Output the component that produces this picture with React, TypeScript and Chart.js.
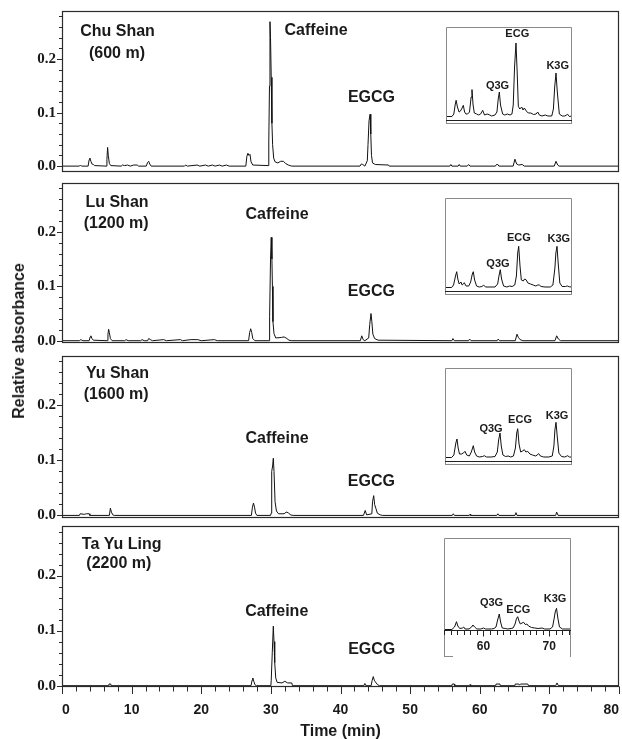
import { useEffect, useRef } from 'react';
import Chart from 'chart.js/auto';

type Pt = [number, number];

// ---------- data ----------
// main chromatograms: [time (min), relative absorbance]
const chuShanTrace: Pt[] = [
  [0, 0], [2.5, 0], [2.65, 0.002], [2.8, 0], [3.75, 0], [3.9, 0.012], [4.0, 0.015], [4.15, 0.009], [4.3, 0.004],
  [4.5, 0.003], [4.7, 0.001], [6.35, 0], [6.45, 0.012], [6.55, 0.035], [6.65, 0.02], [6.8, 0.005], [7.0, 0.001],
  [8.5, 0], [8.7, 0.002], [9.0, 0.001], [9.4, 0.002], [9.8, 0], [10.3, 0.002], [10.8, 0.002], [11.0, 0], [12.1, 0],
  [12.3, 0.007], [12.45, 0.009], [12.6, 0.004], [12.8, 0], [17.6, 0], [17.75, 0.002], [18.0, 0], [19.4, 0.002],
  [19.8, 0], [20.6, 0.002], [21.0, 0], [21.6, 0.002], [22.0, 0], [22.6, 0.002], [23.0, 0], [23.6, 0.002], [24.0, 0],
  [26.4, 0], [26.55, 0.018], [26.7, 0.024], [26.85, 0.02], [27.0, 0.022], [27.15, 0.008], [27.4, 0.002],
  [29.6, 0.001], [29.7, 0.045], [29.8, 0.15], [29.87, 0.27], [29.95, 0.24], [30.05, 0.166], [30.15, 0.08],
  [30.25, 0.04], [30.4, 0.015], [30.6, 0.008], [31.0, 0.006], [31.4, 0.009], [31.8, 0.009], [32.1, 0.005],
  [32.5, 0.002], [33.0, 0], [42.8, 0], [43.0, 0.004], [43.2, 0.003], [43.5, 0], [43.85, 0.01], [43.95, 0.04],
  [44.1, 0.085], [44.25, 0.097], [44.35, 0.06], [44.45, 0.02], [44.6, 0.006], [45.0, 0.003], [46.9, 0.002],
  [47.0, 0], [55.7, 0], [55.85, 0.003], [56.0, 0], [56.9, 0], [57.05, 0.003], [57.2, 0], [58.2, 0], [58.4, 0.003],
  [58.6, 0], [62.25, 0], [62.4, 0.003], [62.6, 0.003], [62.75, 0], [64.8, 0], [65.05, 0.013], [65.3, 0.004],
  [65.6, 0.002], [66.1, 0.003], [66.4, 0], [70.7, 0], [70.95, 0.009], [71.2, 0.002], [71.4, 0], [80, 0],
];

const luShanTrace: Pt[] = [
  [0, 0], [2.5, 0], [2.7, 0.002], [3.0, 0], [3.9, 0], [4.05, 0.007], [4.15, 0.009], [4.3, 0.004], [4.5, 0.001],
  [6.5, 0], [6.6, 0.012], [6.7, 0.021], [6.8, 0.015], [6.95, 0.004], [7.2, 0], [9.0, 0], [9.2, 0.002], [9.5, 0],
  [11.3, 0], [11.5, 0.002], [11.8, 0], [12.3, 0], [12.45, 0.004], [12.7, 0.002], [13.0, 0], [14.6, 0.002],
  [15.0, 0], [17.0, 0.002], [17.3, 0], [18.5, 0.002], [19.5, 0.002], [20.0, 0], [21.9, 0.002], [22.3, 0],
  [26.8, 0], [26.95, 0.015], [27.1, 0.022], [27.25, 0.015], [27.4, 0.004], [27.7, 0], [29.75, 0], [29.82, 0.045],
  [29.95, 0.15], [30.05, 0.19], [30.15, 0.15], [30.22, 0.1], [30.3, 0.035], [30.45, 0.013], [30.7, 0.005],
  [31.5, 0.006], [31.9, 0.007], [32.3, 0.004], [32.6, 0.001], [33.0, 0], [42.85, 0], [43.05, 0.009],
  [43.25, 0.002], [43.5, 0], [44.05, 0.005], [44.2, 0.03], [44.38, 0.05], [44.5, 0.035], [44.65, 0.012],
  [44.9, 0.004], [45.4, 0.001], [56.0, 0], [56.15, 0.004], [56.35, 0], [58.4, 0], [58.55, 0.003], [58.75, 0],
  [62.5, 0], [62.65, 0.003], [62.85, 0], [65.1, 0], [65.35, 0.012], [65.55, 0.006], [65.8, 0.002], [66.2, 0],
  [70.8, 0], [71.05, 0.009], [71.3, 0.003], [71.6, 0], [80, 0],
];

const yuShanTrace: Pt[] = [
  [0, 0], [2.5, 0], [2.6, 0.003], [3.2, 0.002], [3.5, 0.003], [3.9, 0.003], [4.0, 0], [6.8, 0], [6.95, 0.013],
  [7.1, 0.006], [7.3, 0.001], [7.5, 0], [27.2, 0], [27.35, 0.015], [27.5, 0.0225], [27.65, 0.015], [27.8, 0.004],
  [28.0, 0], [29.95, 0], [30.05, 0.004], [30.12, 0.08], [30.25, 0.09], [30.35, 0.104], [30.45, 0.08],
  [30.6, 0.025], [30.8, 0.008], [31.1, 0.003], [31.9, 0.003], [32.2, 0.006], [32.5, 0.005], [32.8, 0.001],
  [33.2, 0], [43.3, 0], [43.55, 0.009], [43.75, 0.001], [44.5, 0.003], [44.6, 0.025], [44.77, 0.036],
  [44.9, 0.02], [45.1, 0.012], [45.3, 0.004], [45.7, 0.001], [46.0, 0], [56.05, 0], [56.2, 0.003], [56.35, 0],
  [58.5, 0], [58.6, 0.002], [58.7, 0], [62.45, 0], [62.6, 0.003], [62.75, 0], [65.05, 0], [65.2, 0.005],
  [65.35, 0], [70.9, 0], [71.05, 0.006], [71.25, 0], [80, 0],
];

const taYuLingTrace: Pt[] = [
  [0, 0], [6.7, 0], [6.75, 0.003], [7.0, 0.003], [7.05, 0], [27.15, 0], [27.3, 0.01], [27.4, 0.014],
  [27.55, 0.008], [27.7, 0.002], [27.9, 0], [30.0, 0], [30.05, 0.01], [30.2, 0.06], [30.35, 0.108],
  [30.45, 0.08], [30.55, 0.042], [30.7, 0.014], [30.9, 0.006], [31.6, 0.005], [32.0, 0.008], [32.4, 0.005],
  [33.0, 0.005], [33.1, 0], [43.35, 0], [43.5, 0.004], [43.65, 0], [44.4, 0], [44.55, 0.01], [44.71, 0.0165],
  [44.85, 0.01], [45.0, 0.007], [45.3, 0.002], [45.6, 0], [56.0, 0], [56.05, 0.003], [56.35, 0.003], [56.4, 0],
  [58.5, 0], [58.6, 0.002], [58.7, 0], [62.3, 0], [62.35, 0.003], [62.9, 0.003], [62.95, 0], [65.05, 0],
  [65.1, 0.003], [65.6, 0.003], [65.7, 0.001], [65.85, 0.003], [66.9, 0.003], [67.0, 0], [70.9, 0],
  [71.1, 0.005], [71.3, 0], [80, 0],
];

// inset close-ups (54-73 min), arbitrary units above the baseline
const chuShanInset: Pt[] = [
  [54, 0.5], [54.9, 0.5], [55.2, 3], [55.4, 12], [55.55, 16.7], [55.75, 10], [56.0, 5], [56.15, 5.5], [56.4, 8],
  [56.65, 11.7], [56.85, 5], [57.06, 3], [57.3, 3], [57.6, 5], [57.85, 20], [57.98, 27.4], [58.15, 12],
  [58.34, 4], [58.7, 3], [59.0, 2], [59.3, 3], [59.62, 6.7], [59.9, 2], [60.3, 3], [60.7, 2], [61.0, 1],
  [61.5, 2], [61.8, 5], [62.0, 18], [62.17, 25], [62.35, 12], [62.68, 3], [63.0, 2], [63.4, 3], [63.8, 2],
  [64.1, 3], [64.3, 12], [64.5, 50], [64.72, 74], [64.9, 45], [65.08, 10.7], [65.3, 8], [65.6, 10], [65.8, 7],
  [66.0, 9], [66.3, 6], [66.6, 4], [67.0, 4], [67.4, 2.5], [67.8, 3], [68.05, 5], [68.3, 2], [68.7, 1],
  [69.2, 2], [69.6, 1], [70.2, 1], [70.45, 8], [70.65, 30], [70.85, 44], [71.05, 25], [71.36, 3], [71.8, 1],
  [72.2, 1], [72.64, 2.7], [72.9, 0.5], [73.3, 1],
];

const luShanInset: Pt[] = [
  [54, 0.5], [55.0, 0.5], [55.3, 3], [55.6, 12], [55.78, 16.3], [55.95, 9], [56.15, 4], [56.43, 6], [56.6, 3],
  [56.8, 4], [56.93, 5.3], [57.2, 2], [57.6, 2], [57.9, 6], [58.15, 14], [58.3, 16.3], [58.5, 8], [58.8, 2],
  [59.2, 1], [59.6, 1.5], [59.88, 2.7], [60.2, 1], [61.0, 1], [61.6, 1], [62.0, 4], [62.2, 12], [62.4, 18.3],
  [62.6, 9], [62.9, 2], [63.4, 1], [63.8, 2], [64.2, 1.5], [64.6, 3], [64.85, 12], [65.05, 35], [65.2, 41.7],
  [65.4, 22], [65.6, 8], [65.9, 7], [66.1, 9], [66.31, 8.3], [66.6, 5], [67.0, 4], [67.4, 3], [67.8, 2],
  [68.1, 3], [68.33, 3], [68.6, 1.5], [69.2, 1], [70.0, 1], [70.4, 3], [70.7, 20], [70.85, 35], [71.02, 41.7],
  [71.2, 25], [71.45, 5], [71.8, 1.5], [72.3, 1.5], [72.6, 2], [72.89, 1.2], [73.3, 1],
];

const yuShanInset: Pt[] = [
  [54, 0.5], [55.0, 0.5], [55.35, 3], [55.65, 15], [55.82, 19], [56.0, 10], [56.2, 4], [56.5, 4], [56.8, 5],
  [57.04, 6.7], [57.3, 3], [57.7, 2], [58.0, 6], [58.3, 12.3], [58.5, 6], [58.8, 2], [59.2, 1], [59.7, 1.5],
  [59.98, 2.3], [60.3, 1], [61.0, 1], [61.6, 1.5], [61.95, 6], [62.15, 18], [62.36, 25], [62.55, 12], [62.8, 3],
  [63.2, 1.5], [63.6, 2], [64.0, 1], [64.4, 2], [64.7, 10], [64.9, 25], [65.05, 29.3], [65.25, 14], [65.5, 6],
  [65.8, 7], [66.05, 8.3], [66.3, 6], [66.56, 6.7], [66.9, 4], [67.3, 3], [67.8, 2], [68.24, 4.3], [68.5, 2],
  [69.0, 1], [69.8, 1], [70.3, 2], [70.55, 12], [70.7, 28], [70.87, 35.7], [71.05, 22], [71.3, 5], [71.7, 1.5],
  [72.2, 1], [72.64, 2.3], [72.9, 1], [73.3, 1],
];

const taYuLingInset: Pt[] = [
  [54, 0.5], [55.2, 0.5], [55.6, 3], [55.9, 8.3], [56.1, 4], [56.4, 1.5], [56.8, 2], [57.0, 3], [57.2, 1],
  [57.8, 1], [58.2, 3], [58.4, 5], [58.65, 3], [59.0, 1], [59.6, 1], [60.0, 2], [60.3, 1], [61.2, 1], [61.6, 1.5],
  [61.9, 3], [62.15, 10], [62.4, 16], [62.6, 8], [62.85, 2], [63.3, 1.5], [63.7, 1], [64.2, 1.5], [64.5, 2],
  [64.8, 6], [65.0, 11], [65.2, 13.3], [65.4, 9], [65.6, 6], [65.85, 7], [66.1, 7.7], [66.35, 5.5], [66.6, 6],
  [66.85, 4], [67.3, 2.5], [67.8, 2], [68.3, 1.5], [68.9, 2], [69.3, 1], [70.1, 1], [70.5, 3], [70.75, 12],
  [70.9, 18], [71.1, 21.7], [71.3, 12], [71.55, 3], [72.0, 1], [72.5, 1], [73.3, 1],
];

const traces = [chuShanTrace, luShanTrace, yuShanTrace, taYuLingTrace];
const insetTraces = [chuShanInset, luShanInset, yuShanInset, taYuLingInset];

const siteNames = ['Chu Shan', 'Lu Shan', 'Yu Shan', 'Ta Yu Ling'];
const siteAltitudes = ['(600 m)', '(1200 m)', '(1600 m)', '(2200 m)'];
const mainCompounds = ['Caffeine', 'EGCG'];
const insetCompounds = ['Q3G', 'ECG', 'K3G'];

const yMajorTicks = [0, 0.1, 0.2];
const yMajorLabels = ['0.0', '0.1', '0.2'];
const yMinorTicks = [0.02, 0.04, 0.06, 0.08, 0.12, 0.14, 0.16, 0.18, 0.22, 0.24, 0.26, 0.28];
const xMajorTicks = [0, 10, 20, 30, 40, 50, 60, 70, 80];
const xMajorLabels = ['0', '10', '20', '30', '40', '50', '60', '70', '80'];
const xMinorTicks = [2, 4, 6, 8, 12, 14, 16, 18, 22, 24, 26, 28, 32, 34, 36, 38, 42, 44, 46, 48, 52, 54, 56, 58,
  62, 64, 66, 68, 72, 74, 76, 78];
const insetMajorTicks = [60, 70];
const insetMajorLabels = ['60', '70'];
const insetMinorTicks = [54, 55, 56, 57, 58, 59, 61, 62, 63, 64, 65, 66, 67, 68, 69, 71, 72, 73];

// ---------- layout ----------
const FIG_W = 622;
const FIG_H = 739;
const PLOT_LEFT = 62;
const PLOT_RIGHT = 619;
const PAD = 12;
const X_AXIS_H = 52;
const Y_MAX = 0.29;
const panelTop = [11, 183, 356, 526];
const panelBottom = [172, 343, 518, 687];
const panelYMin = [-0.011, -0.0042, -0.0047, -0.0024];

// label anchors in data units [min, absorbance]
const siteLabelAt = [[7.97, 0.252], [7.9, 0.2545], [7.97, 0.258], [8.57, 0.2558]];
const altitudeLabelAt = [[7.9, 0.211], [7.78, 0.2147], [7.78, 0.22], [8.16, 0.2215]];
const caffeineLabelAt = [[36.5, 0.254], [30.88, 0.2316], [30.88, 0.1395], [30.84, 0.135]];
const egcgLabelAt = [[44.45, 0.129], [44.43, 0.0899], [44.43, 0.0618], [44.48, 0.0655]];

const insetBoxes = [
  { left: 446, top: 27, width: 126, height: 97 },
  { left: 445, top: 198, width: 127, height: 97 },
  { left: 445, top: 368, width: 127, height: 97 },
  { left: 444, top: 538, width: 127, height: 119 },
];
const INSET_X = [54, 73.3];
const INSET_PLOT_H = 93;
const INSET_AXIS = -4;
const insetLabelAt = [
  [[61.89, 31.2], [64.92, 83.2], [71.11, 50.9]],
  [[62.05, 23.8], [65.22, 50.3], [71.29, 48.8]],
  [[60.99, 28.6], [65.4, 37.8], [71.02, 42]],
  [[61.22, 27], [65.29, 20.5], [70.87, 30.7]],
];

const INK = '#1a1a1a';
const SANS = '"Liberation Sans", Arial, Helvetica, sans-serif';
const SERIF = '"Liberation Serif", "Times New Roman", serif';

type TextItem = { text: string; at: number[] };
type Marks = { values: number[]; len: number }[];

const textPlugin = (items: TextItem[], font: string) => ({
  id: 'textLabels',
  afterDraw(chart: any) {
    const { ctx, scales } = chart;
    ctx.save();
    ctx.font = font;
    ctx.fillStyle = INK;
    ctx.textAlign = 'center';
    ctx.textBaseline = 'middle';
    items.forEach(({ text, at }) => {
      ctx.fillText(text, scales.x.getPixelForValue(at[0]), scales.y.getPixelForValue(at[1]));
    });
    ctx.restore();
  },
});

// panel border plus tick marks of two lengths
const panelFrame = (yMarks: Marks, xMarks: Marks) => ({
  id: 'panelFrame',
  afterDraw(chart: any) {
    const { ctx, chartArea: a, scales } = chart;
    ctx.save();
    ctx.strokeStyle = '#2b2b2b';
    ctx.lineWidth = 1.2;
    ctx.strokeRect(a.left + 0.5, a.top + 0.5, a.right - a.left - 1, a.bottom - a.top - 1);
    ctx.lineWidth = 1;
    ctx.beginPath();
    yMarks.forEach(({ values, len }) => values.forEach((v) => {
      const y = Math.round(scales.y.getPixelForValue(v)) + 0.5;
      ctx.moveTo(a.left - len, y);
      ctx.lineTo(a.left + 0.5, y);
    }));
    xMarks.forEach(({ values, len }) => values.forEach((v) => {
      const x = Math.round(scales.x.getPixelForValue(v)) + 0.5;
      ctx.moveTo(x, a.bottom - 0.5);
      ctx.lineTo(x, a.bottom + len);
    }));
    ctx.stroke();
    ctx.restore();
  },
});

const insetFrame = (withAxis: boolean) => ({
  id: 'insetFrame',
  afterDraw(chart: any) {
    const { ctx, chartArea: a, scales, width, height } = chart;
    ctx.save();
    ctx.strokeStyle = '#8a8a8a';
    ctx.lineWidth = 1;
    ctx.beginPath();
    ctx.moveTo(0.5, height);
    ctx.lineTo(0.5, 0.5);
    ctx.lineTo(width - 0.5, 0.5);
    ctx.lineTo(width - 0.5, height);
    ctx.moveTo(0, height - 0.5);
    ctx.lineTo(withAxis ? 9 : width, height - 0.5);
    ctx.stroke();

    ctx.strokeStyle = '#222';
    ctx.beginPath();
    const axisY = Math.round(withAxis ? a.bottom : scales.y.getPixelForValue(INSET_AXIS)) - 0.5;
    ctx.moveTo(0, axisY);
    ctx.lineTo(width, axisY);
    if (withAxis) {
      const marks: Marks = [{ values: insetMajorTicks, len: 6 }, { values: insetMinorTicks, len: 4.5 }];
      marks.forEach(({ values, len }) => values.forEach((v) => {
        const x = Math.round(scales.x.getPixelForValue(v)) + 0.5;
        ctx.moveTo(x, axisY);
        ctx.lineTo(x, axisY + len);
      }));
    }
    ctx.stroke();
    ctx.restore();
  },
});

function Panel({ index }: { index: number }) {
  const canvasRef = useRef<HTMLCanvasElement>(null);
  const isBottom = index === traces.length - 1;
  const top = panelTop[index] - PAD;
  const height = (isBottom ? FIG_H : panelBottom[index] + PAD) - top;

  useEffect(() => {
    if (!canvasRef.current) return;
    const texts: TextItem[] = [
      { text: siteNames[index], at: siteLabelAt[index] },
      { text: siteAltitudes[index], at: altitudeLabelAt[index] },
      { text: mainCompounds[0], at: caffeineLabelAt[index] },
      { text: mainCompounds[1], at: egcgLabelAt[index] },
    ];
    const chart = new Chart(canvasRef.current, {
      type: 'line',
      data: {
        datasets: [{
          data: traces[index].map(([x, y]) => ({ x, y })),
          borderColor: '#111',
          borderWidth: 1,
          pointRadius: 0,
          tension: 0,
          fill: false,
        }],
      },
      options: {
        animation: false,
        responsive: false,
        events: [],
        layout: { padding: { top: PAD, bottom: isBottom ? 0 : PAD, left: 0, right: FIG_W - PLOT_RIGHT } },
        plugins: { legend: { display: false }, tooltip: { enabled: false } },
        scales: {
          x: {
            type: 'linear',
            min: 0,
            max: 80,
            display: isBottom,
            afterBuildTicks: (s: any) => { s.ticks = xMajorTicks.map((value) => ({ value })); },
            afterFit: (s: any) => { s.height = isBottom ? X_AXIS_H : 0; },
            ticks: {
              display: isBottom,
              autoSkip: false,
              maxRotation: 0,
              minRotation: 0,
              align: 'inner',
              padding: 0,
              color: INK,
              font: { family: SANS, weight: 'bold', size: 14 },
              callback: (_v: any, i: number) => xMajorLabels[i],
            },
            grid: { display: false, drawTicks: true, tickLength: 14.6 },
            border: { display: false },
            title: {
              display: isBottom,
              text: 'Time (min)',
              color: INK,
              font: { family: SANS, weight: 'bold', size: 16 },
              padding: { top: 0, bottom: -2 },
            },
          },
          y: {
            min: panelYMin[index],
            max: Y_MAX,
            afterBuildTicks: (s: any) => { s.ticks = yMajorTicks.map((value) => ({ value })); },
            afterFit: (s: any) => { s.width = PLOT_LEFT; },
            ticks: {
              autoSkip: false,
              padding: 1,
              color: INK,
              font: { family: SERIF, weight: 'bold', size: 15 },
              callback: (_v: any, i: number) => yMajorLabels[i],
            },
            grid: { display: false, drawTicks: true, tickLength: 5 },
            border: { display: false },
          },
        },
      },
      plugins: [
        panelFrame(
          [{ values: yMajorTicks, len: 5 }, { values: yMinorTicks, len: 3 }],
          isBottom ? [{ values: xMajorTicks, len: 7 }, { values: xMinorTicks, len: 4.5 }] : [],
        ),
        textPlugin(texts, `bold 16px ${SANS}`),
      ],
    } as any);
    return () => chart.destroy();
  }, [index]);

  return (
    <canvas
      ref={canvasRef}
      width={FIG_W}
      height={height}
      style={{ position: 'absolute', left: 0, top, width: FIG_W, height }}
    />
  );
}

function Inset({ index }: { index: number }) {
  const canvasRef = useRef<HTMLCanvasElement>(null);
  const box = insetBoxes[index];
  const withAxis = index === insetTraces.length - 1;

  useEffect(() => {
    if (!canvasRef.current) return;
    const texts: TextItem[] = insetCompounds.map((text, i) => ({ text, at: insetLabelAt[index][i] }));
    const chart = new Chart(canvasRef.current, {
      type: 'line',
      data: {
        datasets: [{
          data: insetTraces[index].map(([x, y]) => ({ x, y })),
          borderColor: '#111',
          borderWidth: 1,
          pointRadius: 0,
          tension: 0,
          fill: false,
        }],
      },
      options: {
        animation: false,
        responsive: false,
        events: [],
        layout: { padding: 0 },
        plugins: { legend: { display: false }, tooltip: { enabled: false } },
        scales: {
          x: {
            type: 'linear',
            min: INSET_X[0],
            max: INSET_X[1],
            display: withAxis,
            afterBuildTicks: (s: any) => { s.ticks = insetMajorTicks.map((value) => ({ value })); },
            afterFit: (s: any) => { s.height = withAxis ? box.height - INSET_PLOT_H : 0; },
            ticks: {
              display: withAxis,
              autoSkip: false,
              maxRotation: 0,
              minRotation: 0,
              padding: 0,
              color: INK,
              font: { family: SANS, weight: 'bold', size: 12 },
              callback: (_v: any, i: number) => insetMajorLabels[i],
            },
            grid: { display: false, drawTicks: true, tickLength: 8.8 },
            border: { display: false },
          },
          y: {
            display: false,
            min: withAxis ? -1 : -7,
            max: withAxis ? 92 : 90,
          },
        },
      },
      plugins: [insetFrame(withAxis), textPlugin(texts, `bold 11px ${SANS}`)],
    } as any);
    return () => chart.destroy();
  }, [index]);

  return (
    <canvas
      ref={canvasRef}
      width={box.width}
      height={box.height}
      style={{ position: 'absolute', left: box.left, top: box.top, width: box.width, height: box.height }}
    />
  );
}

export default function App() {
  return (
    <div
      style={{
        position: 'absolute',
        left: 0,
        top: 0,
        width: FIG_W,
        height: FIG_H,
        background: '#fff',
        overflow: 'hidden',
      }}
    >
      {traces.map((_, i) => <Panel key={i} index={i} />)}
      {insetTraces.map((_, i) => <Inset key={i} index={i} />)}
      <div
        style={{
          position: 'absolute',
          left: 19,
          top: 341,
          transform: 'translate(-50%, -50%) rotate(-90deg)',
          whiteSpace: 'nowrap',
          fontFamily: SANS,
          fontWeight: 'bold',
          fontSize: 16,
          color: INK,
        }}
      >
        Relative absorbance
      </div>
    </div>
  );
}
